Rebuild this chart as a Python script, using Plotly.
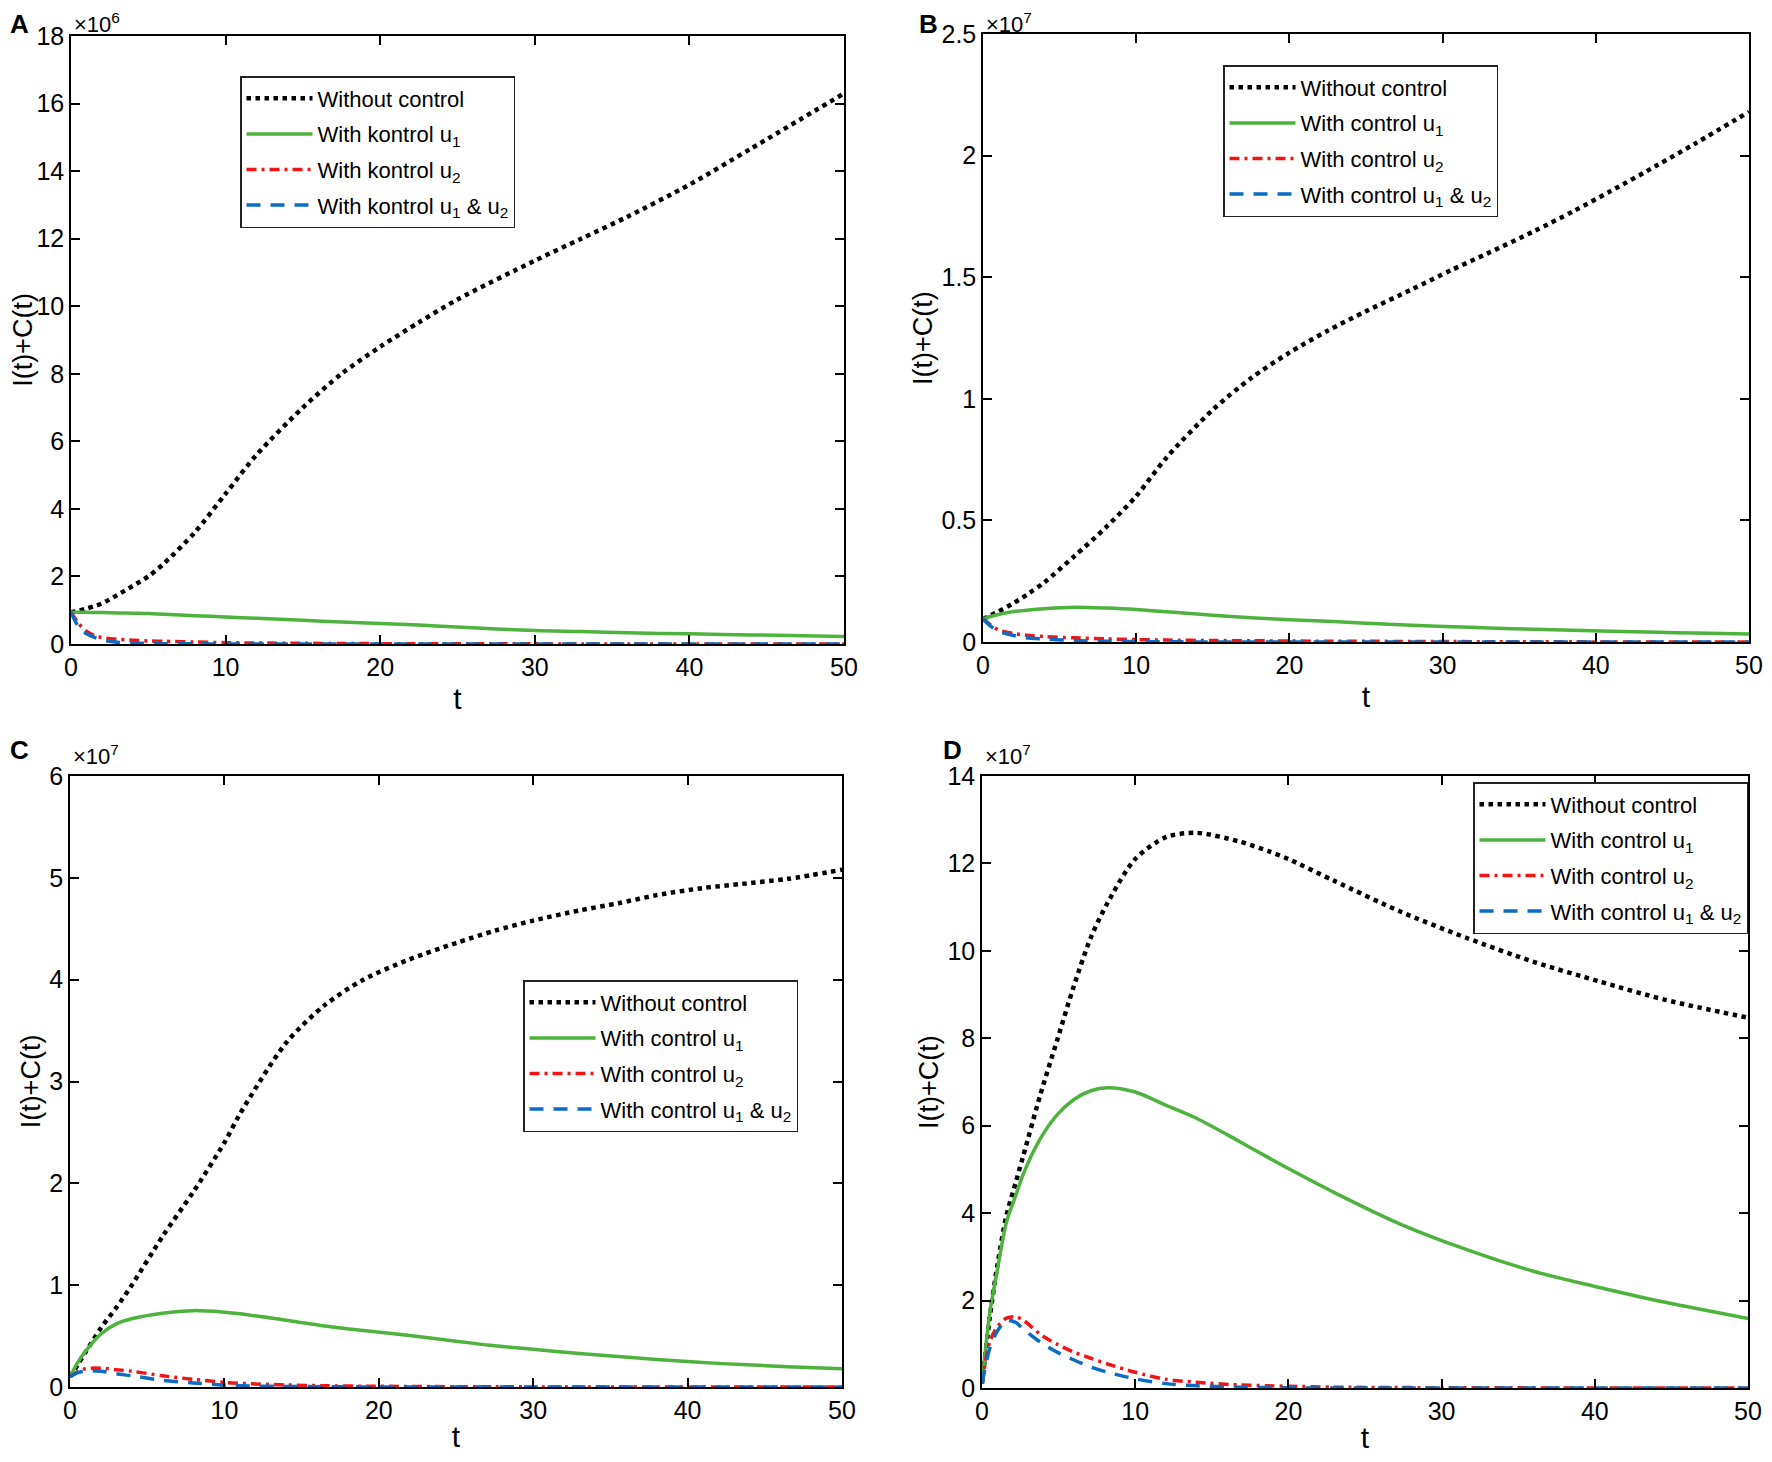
import plotly.graph_objects as go

# ---------------- data (y in units of the axis multiplier) ----------------
t_a = [0, 0.5, 1, 1.5, 2, 3, 4, 5, 6, 8, 10, 12, 15, 17.5, 20, 22.5, 25, 30, 33, 36, 40, 44, 50]
a_without = [0.94, 0.98, 1.05, 1.12, 1.2, 1.45, 1.72, 2.0, 2.38, 3.3, 4.45, 5.6, 7.0, 8.0, 8.8, 9.52,
             10.2, 11.35, 12.0, 12.65, 13.6, 14.67, 16.3]
a_u1 = [0.94, 0.94, 0.94, 0.93, 0.93, 0.92, 0.91, 0.9, 0.88, 0.84, 0.8, 0.76, 0.7, 0.65, 0.61, 0.56,
        0.5, 0.4, 0.37, 0.33, 0.3, 0.27, 0.22]
a_u2 = [0.94, 0.6, 0.38, 0.25, 0.19, 0.14, 0.11, 0.09, 0.08, 0.06, 0.04, 0.03, 0.02, 0.015, 0.01,
        0.008, 0.006, 0.004, 0.003, 0.002, 0.001, 0.001, 0.0]
a_u12 = [0.94, 0.5, 0.3, 0.2, 0.12, 0.05, 0.03, 0.02, 0.01, 0.005, 0.002, 0.001, 0, 0, 0, 0,
         0, 0, 0, 0, 0, 0, 0]

t_b = [0, 0.5, 1, 2, 3, 4, 6, 8, 10, 12, 15, 17.5, 20, 22.5, 25, 28, 30.6, 33, 36, 38.5, 41, 44, 46.5, 50]
b_without = [0.095, 0.11, 0.125, 0.16, 0.2, 0.245, 0.355, 0.47, 0.6, 0.76, 0.955, 1.085, 1.19, 1.28,
             1.36, 1.45, 1.53, 1.6, 1.69, 1.77, 1.855, 1.96, 2.05, 2.18]
b_u1 = [0.095, 0.105, 0.113, 0.125, 0.132, 0.137, 0.143, 0.14, 0.134, 0.124, 0.11, 0.1, 0.092, 0.085,
        0.077, 0.069, 0.063, 0.058, 0.052, 0.048, 0.044, 0.04, 0.037, 0.033]
b_u2 = [0.095, 0.07, 0.05, 0.035, 0.027, 0.022, 0.017, 0.013, 0.01, 0.008, 0.006, 0.005, 0.004, 0.003,
        0.003, 0.002, 0.002, 0.001, 0.001, 0.001, 0, 0, 0, 0]
b_u12 = [0.095, 0.065, 0.045, 0.027, 0.016, 0.012, 0.006, 0.003, 0.002, 0.001, 0, 0, 0, 0,
         0, 0, 0, 0, 0, 0, 0, 0, 0, 0]

t_c = [0, 0.5, 1, 2, 3, 4, 6, 8, 10, 11, 14, 16.5, 19, 22, 25, 27.5, 30, 33, 35.5, 38, 41, 43.5, 46.5, 50]
c_without = [0.1, 0.22, 0.34, 0.58, 0.78, 1.0, 1.48, 1.92, 2.4, 2.68, 3.38, 3.75, 4.0, 4.2, 4.36, 4.48,
             4.58, 4.68, 4.75, 4.83, 4.9, 4.94, 4.99, 5.08]
c_u1 = [0.1, 0.24, 0.35, 0.52, 0.62, 0.67, 0.725, 0.75, 0.735, 0.72, 0.655, 0.6, 0.555, 0.505, 0.45,
        0.405, 0.37, 0.33, 0.3, 0.27, 0.24, 0.22, 0.2, 0.18]
c_u2 = [0.1, 0.15, 0.18, 0.185, 0.17, 0.155, 0.11, 0.075, 0.045, 0.036, 0.02, 0.012, 0.008, 0.005,
        0.003, 0.002, 0.001, 0, 0, 0, 0, 0, 0, 0]
c_u12 = [0.1, 0.14, 0.16, 0.155, 0.13, 0.11, 0.066, 0.04, 0.018, 0.012, 0.005, 0.003, 0.001, 0,
         0, 0, 0, 0, 0, 0, 0, 0, 0, 0]

t_d = [0, 0.5, 1, 1.6, 2.2, 2.7, 3.8, 4.9, 6, 7.1, 8.2, 10, 12, 14, 16.8, 18.7, 20, 23, 27.3, 31.6,
       36, 40.3, 44.6, 50]
d_without = [0.1, 1.6, 2.8, 3.95, 4.7, 5.32, 6.7, 7.95, 9.2, 10.3, 11.1, 12.1, 12.6, 12.7, 12.5, 12.28,
             12.1, 11.6, 10.9, 10.3, 9.75, 9.3, 8.88, 8.47]
d_u1 = [0.1, 1.7, 2.7, 3.8, 4.4, 4.9, 5.7, 6.25, 6.6, 6.8, 6.87, 6.77, 6.47, 6.17, 5.64, 5.27, 5.02,
        4.47, 3.75, 3.17, 2.67, 2.3, 1.96, 1.59]
d_u2 = [0.1, 1.05, 1.4, 1.6, 1.63, 1.55, 1.23, 1.0, 0.82, 0.68, 0.55, 0.36, 0.2, 0.13, 0.07, 0.05,
        0.04, 0.02, 0.01, 0.005, 0.003, 0.002, 0.001, 0]
d_u12 = [0.1, 0.9, 1.3, 1.55, 1.5, 1.35, 1.05, 0.82, 0.64, 0.48, 0.36, 0.21, 0.1, 0.05, 0.02, 0.01,
         0.005, 0, 0, 0, 0, 0, 0, 0]

panel_letters = ["A", "B", "C", "D"]
exponents = ["6", "7", "7", "7"]
y_ranges = [[0, 18], [0, 2.5], [0, 6], [0, 14]]
y_dticks = [2, 0.5, 1, 2]
legend_names_a = ["Without control", "With kontrol u<sub>1</sub>", "With kontrol u<sub>2</sub>",
                  "With kontrol u<sub>1</sub> &amp; u<sub>2</sub>"]
legend_names = ["Without control", "With control u<sub>1</sub>", "With control u<sub>2</sub>",
                "With control u<sub>1</sub> &amp; u<sub>2</sub>"]

FONT = "Arial, Liberation Sans, Helvetica, sans-serif"
# the page body adds an 8px margin on every side, so the figure is 16px smaller than the
# window and every position below is 8px up/left of where it lands on screen
W, H = 1756, 1446

# panel boxes in figure pixels: left, right, top, bottom
boxes = [(63, 836, 28, 636), (975, 1741, 26, 634), (62, 834, 768, 1379), (974, 1740, 768, 1380)]
# legend placement in figure pixels (left/right edge, top edge)
legend_pos = [(232, "left", 68), (1215, "left", 57), (515, "left", 972), (1740, "right", 774)]
# panel letter positions (left, top)
letter_pos = [(1, 0), (910, 0), (1, 726), (934, 726)]
x_title_standoff = [8, 8, 3, 3]

styles = [
    dict(color="black", width=4.5, dash="dot"),
    dict(color="#4db33d", width=3.5, dash="solid"),
    dict(color="#f01414", width=3.5, dash="10px,5px,3px,5px"),
    dict(color="#0a6cc4", width=3.5, dash="14px,10px"),
]

panels = [
    (t_a, [a_without, a_u1, a_u2, a_u12], legend_names_a),
    (t_b, [b_without, b_u1, b_u2, b_u12], legend_names),
    (t_c, [c_without, c_u1, c_u2, c_u12], legend_names),
    (t_d, [d_without, d_u1, d_u2, d_u12], legend_names),
]

fig = go.Figure()

for i, (t, series, names) in enumerate(panels):
    suffix = "" if i == 0 else str(i + 1)
    for j, (ys, name) in enumerate(zip(series, names)):
        fig.add_trace(go.Scatter(
            x=t, y=ys, name=name, mode="lines",
            line=dict(shape="spline", smoothing=0.8, **styles[j]),
            xaxis="x" + suffix, yaxis="y" + suffix,
            legend="legend" + suffix, legendgroup=f"p{i}s{j}",
        ))

axis_common = dict(
    showline=True, linecolor="black", linewidth=1.5, mirror="ticks",
    ticks="inside", ticklen=9, tickwidth=1.5, tickcolor="black",
    showgrid=False, zeroline=False, automargin=False,
    tickfont=dict(family=FONT, size=25, color="black"),
)

layout = dict(
    width=W, height=H, margin=dict(l=0, r=0, t=0, b=0, pad=0, autoexpand=False),
    paper_bgcolor="white", plot_bgcolor="white",
    font=dict(family=FONT, color="black"),
)

annotations = []
for i, (l, r, top, bot) in enumerate(boxes):
    suffix = "" if i == 0 else str(i + 1)
    layout["xaxis" + suffix] = dict(
        axis_common, domain=[l / W, r / W], range=[0, 50], dtick=10,
        anchor="y" + suffix,
        title=dict(text="t", font=dict(family=FONT, size=30), standoff=x_title_standoff[i]),
    )
    layout["yaxis" + suffix] = dict(
        axis_common, domain=[1 - bot / H, 1 - top / H], range=y_ranges[i], dtick=y_dticks[i],
        anchor="x" + suffix,
        title=dict(text="I(t)+C(t)", font=dict(family=FONT, size=27), standoff=1),
    )
    lx, anchor, ly = legend_pos[i]
    layout["legend" + suffix] = dict(
        x=lx / W, xanchor=anchor, y=1 - ly / H, yanchor="top",
        bgcolor="white", bordercolor="#222222", borderwidth=1.5,
        font=dict(family=FONT, size=22, color="black"),
        itemwidth=66, tracegroupgap=4,
    )
    annotations.append(dict(
        text=f"\u00d710<sup>{exponents[i]}</sup>", xref="paper", yref="paper",
        x=(l + 2) / W, y=1 - max(top - 36, 0) / H, xanchor="left", yanchor="top",
        borderpad=0, showarrow=False, font=dict(family=FONT, size=22, color="black"),
    ))
    px, py = letter_pos[i]
    annotations.append(dict(
        text=f"<b>{panel_letters[i]}</b>", xref="paper", yref="paper",
        x=px / W, y=1 - py / H, xanchor="left", yanchor="top", borderpad=0,
        showarrow=False, font=dict(family=FONT, size=26, color="black"),
    ))

layout["annotations"] = annotations
fig.update_layout(**layout)

fig.write_html("out.html")
